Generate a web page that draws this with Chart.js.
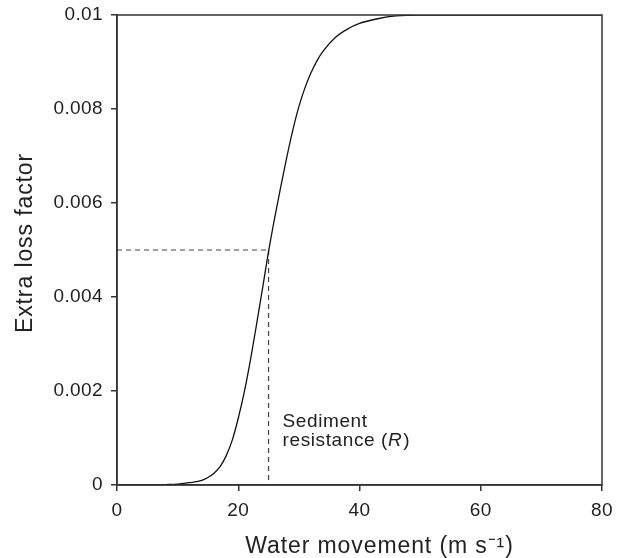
<!DOCTYPE html>
<html>
<head>
<meta charset="utf-8">
<script src="https://cdn.jsdelivr.net/npm/chart.js@4"></script>
<style>
  html, body { margin: 0; padding: 0; background: #fff; }
  #wrap { width: 633px; height: 558px; }
</style>
</head>
<body>
<div id="wrap"><canvas id="chart" width="633" height="558"></canvas></div>
<script>
// curve
const waterMovement = [0, 5, 8, 10, 12, 14, 15, 16, 17, 18, 19, 20, 21, 22, 23, 24, 25, 26, 27, 28, 29, 30, 31, 32, 33, 34, 36, 38, 40, 43, 46, 50, 60, 70, 80];
const extraLoss = [0, 0, 0.00001, 0.00002, 0.00005, 0.0001, 0.00016, 0.00025, 0.00039, 0.00062, 0.00095, 0.00142, 0.00198, 0.00265, 0.0034, 0.00418, 0.00497, 0.00568, 0.00634, 0.00697, 0.00755, 0.00805, 0.00845, 0.00877, 0.00903, 0.00923, 0.00952, 0.0097, 0.00982, 0.00992, 0.00998, 0.01, 0.01, 0.01, 0.01];

// sediment resistance marker
const resistanceX = 25;
const resistanceY = 0.005;

const xTicks = [0, 20, 40, 60, 80];
const yTicks = [0, 0.002, 0.004, 0.006, 0.008, 0.01];
const yTickLabels = ['0', '0.002', '0.004', '0.006', '0.008', '0.01'];

const FONT = '"Liberation Sans", Arial, sans-serif';
const AXIS = '#333';
const TEXT = '#222';

const curve = waterMovement.map((x, i) => ({ x: x, y: extraLoss[i] }));

const spacing = {
    id: 'spacing',
    beforeDraw(chart) { chart.ctx.letterSpacing = '0.4px'; }
};

const frame = {
    id: 'frame',
    afterDatasetsDraw(chart) {
        const a = chart.chartArea;
        const ctx = chart.ctx;
        const xs = chart.scales.x, ys = chart.scales.y;
        ctx.save();
        ctx.strokeStyle = AXIS;
        ctx.lineWidth = 1.5;
        ctx.strokeRect(a.left, a.top, a.right - a.left, a.bottom - a.top);

        // label next to the vertical dashed line
        const px = xs.getPixelForValue(resistanceX) + 14;
        const py = ys.getPixelForValue(0) - 58;
        ctx.fillStyle = TEXT;
        ctx.letterSpacing = '0.6px';
        ctx.textBaseline = 'alphabetic';
        ctx.textAlign = 'left';
        ctx.font = '19px ' + FONT;
        ctx.fillText('Sediment', px, py);
        const t = 'resistance (';
        ctx.fillText(t, px, py + 19);
        let w = ctx.measureText(t).width;
        ctx.font = 'italic 19px ' + FONT;
        ctx.fillText('R', px + w, py + 19);
        w += ctx.measureText('R').width;
        ctx.font = '19px ' + FONT;
        ctx.fillText(')', px + w + 1, py + 19);

        // axis titles
        ctx.letterSpacing = '0.9px';
        ctx.font = '23px ' + FONT;
        ctx.textAlign = 'center';
        ctx.fillText('Water movement (m s⁻¹)', (a.left + a.right) / 2 + 20, 553);
        ctx.save();
        ctx.translate(32, (a.top + a.bottom) / 2 - 7);
        ctx.rotate(-Math.PI / 2);
        ctx.fillText('Extra loss factor', 0, 0);
        ctx.restore();
        ctx.restore();
    }
};

new Chart(document.getElementById('chart'), {
    type: 'line',
    data: {
        datasets: [
            {
                data: curve,
                borderColor: '#111',
                borderWidth: 1.3,
                pointRadius: 0,
                cubicInterpolationMode: 'monotone',
                fill: false
            },
            {
                data: [{ x: 0, y: resistanceY }, { x: resistanceX, y: resistanceY }],
                borderColor: '#444',
                borderWidth: 1.2,
                borderDash: [5, 4],
                pointRadius: 0
            },
            {
                data: [{ x: resistanceX, y: resistanceY }, { x: resistanceX, y: 0 }],
                borderColor: '#444',
                borderWidth: 1.2,
                borderDash: [5, 4],
                pointRadius: 0
            }
        ]
    },
    options: {
        responsive: false,
        animation: false,
        layout: { padding: { left: 0, right: 31, top: 15, bottom: 0 } },
        plugins: { legend: { display: false }, tooltip: { enabled: false } },
        scales: {
            x: {
                type: 'linear',
                min: 0,
                max: 80,
                afterBuildTicks: (s) => { s.ticks = xTicks.map(v => ({ value: v })); },
                afterFit: (s) => { s.height = 73; s.paddingLeft = 0; s.paddingRight = 0; },
                grid: { drawOnChartArea: false, drawTicks: true, tickLength: 6, color: AXIS, lineWidth: 1.5 },
                border: { display: true, color: AXIS, width: 1.5 },
                ticks: { color: TEXT, font: { family: FONT, size: 19 }, padding: 8, maxRotation: 0 }
            },
            y: {
                min: 0,
                max: 0.01,
                afterBuildTicks: (s) => { s.ticks = yTicks.map(v => ({ value: v })); },
                afterFit: (s) => { s.width = 117; s.paddingTop = 0; s.paddingBottom = 0; },
                grid: { drawOnChartArea: false, drawTicks: true, tickLength: 6, color: AXIS, lineWidth: 1.5 },
                border: { display: true, color: AXIS, width: 1.5 },
                ticks: {
                    color: TEXT,
                    font: { family: FONT, size: 19 },
                    padding: 8,
                    callback: (v) => { const i = yTicks.indexOf(v); return i >= 0 ? yTickLabels[i] : ''; }
                }
            }
        }
    },
    plugins: [spacing, frame]
});
</script>
</body>
</html>
